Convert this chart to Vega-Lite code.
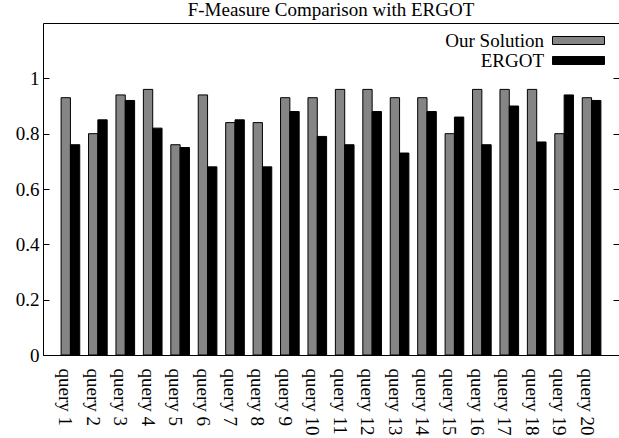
{
  "$schema": "https://vega.github.io/schema/vega-lite/v6.json",
  "width": 576,
  "height": 332,
  "autosize": "none",
  "padding": {"left": 43, "top": 23, "right": 0, "bottom": 83},
  "background": "white",
  "config": {
    "view": {"stroke": null},
    "font": "Liberation Serif",
    "axis": {"labelFont": "Liberation Serif", "labelFontSize": 19, "labelColor": "black", "domainColor": "black", "tickColor": "black", "grid": false, "title": null},
    "legend": {"labelFont": "Liberation Serif", "labelFontSize": 19, "labelColor": "black"}
  },
  "title": {"text": "F-Measure Comparison with ERGOT", "font": "Liberation Serif", "fontSize": 19, "fontWeight": "normal", "anchor": "middle", "offset": 3, "color": "black"},
  "data": {"values": [
    {"query": "query 1", "series": "Our Solution", "value": 0.93}, {"query": "query 1", "series": "ERGOT", "value": 0.76},
    {"query": "query 2", "series": "Our Solution", "value": 0.80}, {"query": "query 2", "series": "ERGOT", "value": 0.85},
    {"query": "query 3", "series": "Our Solution", "value": 0.94}, {"query": "query 3", "series": "ERGOT", "value": 0.92},
    {"query": "query 4", "series": "Our Solution", "value": 0.96}, {"query": "query 4", "series": "ERGOT", "value": 0.82},
    {"query": "query 5", "series": "Our Solution", "value": 0.76}, {"query": "query 5", "series": "ERGOT", "value": 0.75},
    {"query": "query 6", "series": "Our Solution", "value": 0.94}, {"query": "query 6", "series": "ERGOT", "value": 0.68},
    {"query": "query 7", "series": "Our Solution", "value": 0.84}, {"query": "query 7", "series": "ERGOT", "value": 0.85},
    {"query": "query 8", "series": "Our Solution", "value": 0.84}, {"query": "query 8", "series": "ERGOT", "value": 0.68},
    {"query": "query 9", "series": "Our Solution", "value": 0.93}, {"query": "query 9", "series": "ERGOT", "value": 0.88},
    {"query": "query 10", "series": "Our Solution", "value": 0.93}, {"query": "query 10", "series": "ERGOT", "value": 0.79},
    {"query": "query 11", "series": "Our Solution", "value": 0.96}, {"query": "query 11", "series": "ERGOT", "value": 0.76},
    {"query": "query 12", "series": "Our Solution", "value": 0.96}, {"query": "query 12", "series": "ERGOT", "value": 0.88},
    {"query": "query 13", "series": "Our Solution", "value": 0.93}, {"query": "query 13", "series": "ERGOT", "value": 0.73},
    {"query": "query 14", "series": "Our Solution", "value": 0.93}, {"query": "query 14", "series": "ERGOT", "value": 0.88},
    {"query": "query 15", "series": "Our Solution", "value": 0.80}, {"query": "query 15", "series": "ERGOT", "value": 0.86},
    {"query": "query 16", "series": "Our Solution", "value": 0.96}, {"query": "query 16", "series": "ERGOT", "value": 0.76},
    {"query": "query 17", "series": "Our Solution", "value": 0.96}, {"query": "query 17", "series": "ERGOT", "value": 0.90},
    {"query": "query 18", "series": "Our Solution", "value": 0.96}, {"query": "query 18", "series": "ERGOT", "value": 0.77},
    {"query": "query 19", "series": "Our Solution", "value": 0.80}, {"query": "query 19", "series": "ERGOT", "value": 0.94},
    {"query": "query 20", "series": "Our Solution", "value": 0.93}, {"query": "query 20", "series": "ERGOT", "value": 0.92}
  ]},
  "layer": [
    {
      "mark": {"type": "bar", "stroke": "black", "strokeWidth": 1},
      "encoding": {
        "x": {"field": "query", "type": "nominal", "sort": null,
              "scale": {"paddingInner": 0.32, "paddingOuter": 0.66},
              "axis": {"orient": "bottom", "labelAngle": 90, "labelAlign": "left", "labelBaseline": "middle", "ticks": false, "labelPadding": 13, "labelOffset": -5}},
        "xOffset": {"field": "series", "type": "nominal", "sort": ["Our Solution", "ERGOT"], "scale": {"paddingInner": 0, "paddingOuter": 0}},
        "y": {"field": "value", "type": "quantitative", "stack": null,
              "scale": {"domain": [0, 1.2], "nice": false, "zero": true},
              "axis": {"orient": "left", "values": [0, 0.2, 0.4, 0.6, 0.8, 1.0], "format": ".1~f", "tickSize": -6, "labelPadding": 10}},
        "fill": {"field": "series", "type": "nominal",
                 "scale": {"domain": ["Our Solution", "ERGOT"], "range": ["#858585", "black"]},
                 "legend": {"title": null, "orient": "none", "legendX": 526, "legendY": 8, "padding": 0,
                            "symbolType": "M-5.2,-0.8H5.2V0.8H-5.2Z", "symbolSize": 100, "symbolStrokeColor": "black", "symbolStrokeWidth": 1,
                            "labelAlign": "right", "labelOffset": -44, "rowPadding": -4}}
      }
    },
    {
      "mark": {"type": "bar", "opacity": 0},
      "encoding": {
        "x": {"field": "query", "type": "nominal", "sort": null,
              "axis": {"orient": "top", "labels": false, "ticks": false, "domain": true}},
        "y": {"field": "value", "type": "quantitative", "stack": null,
              "axis": {"orient": "right", "values": [0, 0.2, 0.4, 0.6, 0.8, 1.0], "labels": false, "domain": false, "tickSize": -6}}
      }
    }
  ],
  "resolve": {"axis": {"x": "independent", "y": "independent"}}
}
